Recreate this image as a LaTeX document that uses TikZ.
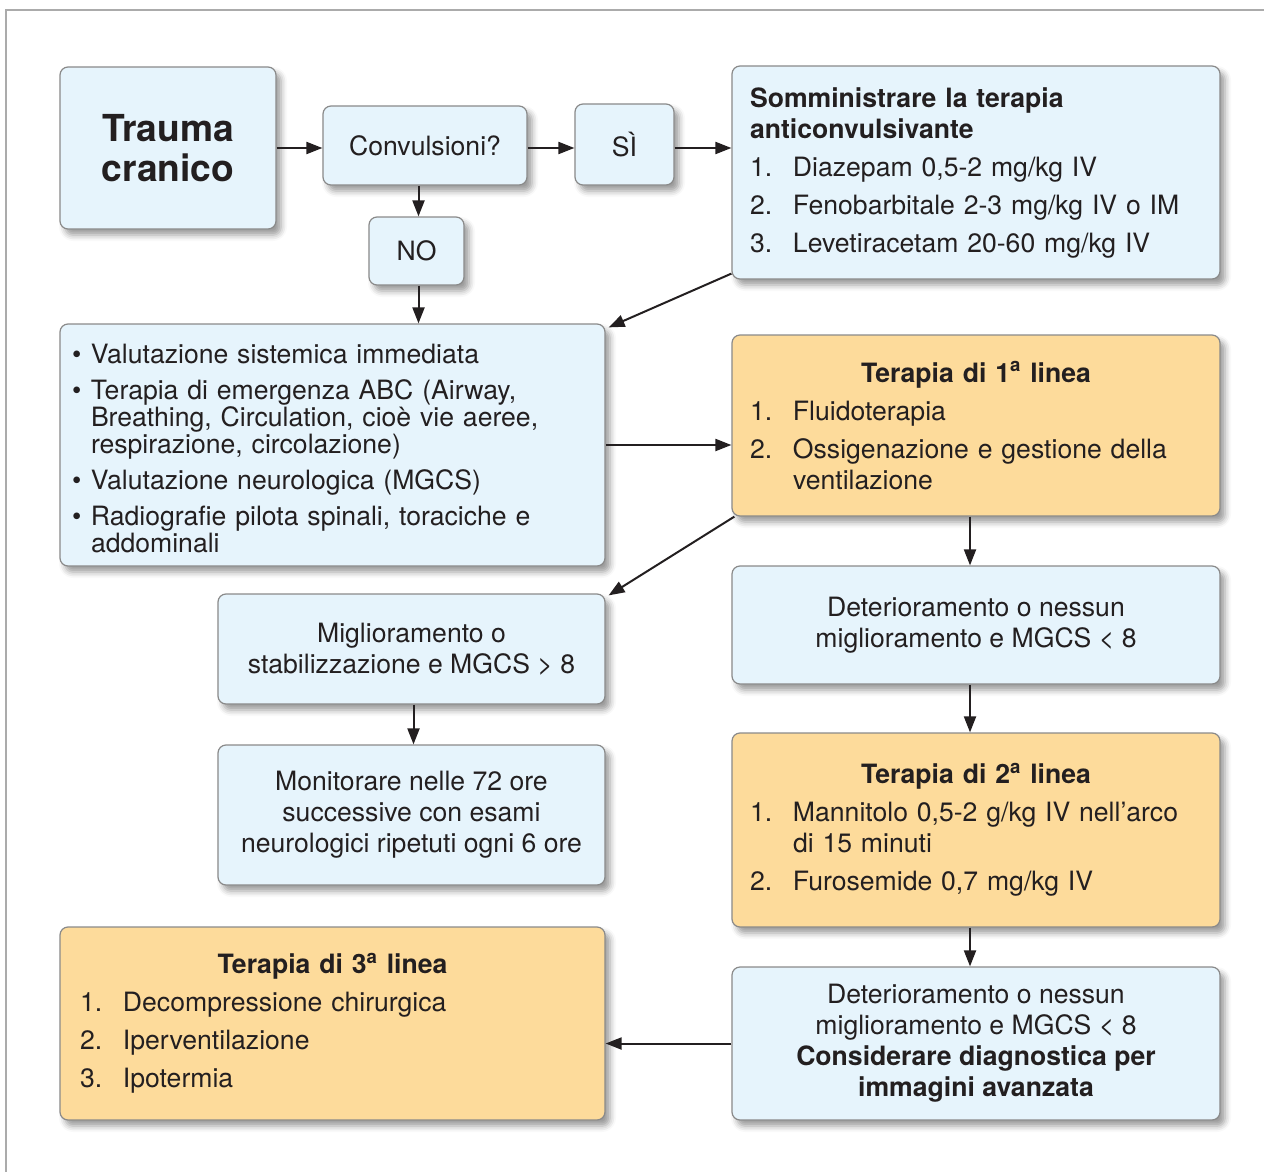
\documentclass[tikz,border=0pt]{standalone}
\usepackage{fontspec}
\setmainfont{TeX Gyre Heros}
\usetikzlibrary{arrows.meta, shadows.blur}
\definecolor{hellblau}{HTML}{E6F4FC}
\definecolor{arancio}{HTML}{FDDB9B}
\definecolor{bordo}{HTML}{8A8A8A}
\definecolor{cornice}{HTML}{ABABAB}
\definecolor{testo}{HTML}{231F20}
% voce numerata con rientro sospeso
\newcommand{\voce}[2]{\par\vspace{3.5pt}\hangindent=21.5pt\hangafter=1\noindent\makebox[21.5pt][l]{#1}#2}
% voce puntata
\newcommand{\punto}[2][4.5pt]{\par\vspace{#1}\hangindent=9.5pt\hangafter=1\noindent\makebox[9.5pt][l]{\textbullet}#2}
\tikzset{
  box/.style={draw=bordo, line width=0.6pt, rounded corners=4pt, fill=hellblau,
    blur shadow={shadow xshift=2.5pt, shadow yshift=-3pt, shadow blur radius=3pt, shadow opacity=40},
    inner sep=0pt, text=testo, font=\fontsize{13.3}{15.5}\selectfont},
  boxarancio/.style={box, fill=arancio},
  pfeil/.style={-{Triangle[length=8pt,width=6pt]}, line width=1pt, draw=testo},
}
\begin{document}
\begin{tikzpicture}[x=0.5pt, y=-0.5pt]
  \useasboundingbox (0,0) rectangle (1264,1172);
  % cornice
  \draw[cornice, line width=1pt] (6,1180) -- (6,10) -- (1270,10);

  % riga in alto
  \node[box, minimum width=108pt, minimum height=81pt, align=center,
  font=\bfseries\fontsize{18.6}{20}\selectfont] (trauma) at (168,148) {Trauma\\cranico};
  \node[box, minimum width=102pt, minimum height=39.5pt] (conv) at (425,145.5) {Convulsioni?};
  \node[box, minimum width=49.5pt, minimum height=40.5pt] (si) at (624.5,144.5) {SÌ};
  \node[box, minimum width=47.5pt, minimum height=34pt] (no) at (416.5,251) {NO};
  \node[box, minimum width=244pt, minimum height=106.5pt, text width=226pt, align=left] (soma) at (976,172.5) {%
    {\bfseries Somministrare la terapia\\anticonvulsivante}
    \voce{1.}{Diazepam 0,5-2 mg/kg IV}
    \voce{2.}{Fenobarbitale 2-3 mg/kg IV o IM}
    \voce{3.}{Levetiracetam 20-60 mg/kg IV}\par};

  % valutazione e terapia di 1a linea
  \node[box, minimum width=272.5pt, minimum height=121pt, text width=260.5pt, align=left,
  font=\fontsize{13.3}{13.5}\selectfont] (valut) at (332.5,445) {%
    \punto[0pt]{Valutazione sistemica immediata}
    \punto{Terapia di emergenza ABC (Airway,\newline Breathing, Circulation, cioè vie aeree,\newline respirazione, circolazione)}
    \punto{Valutazione neurologica (MGCS)}
    \punto{Radiografie pilota spinali, toraciche e\newline addominali}\par};
  \node[boxarancio, minimum width=244pt, minimum height=90.5pt, text width=226pt, align=left] (ter1) at (976,425.5) {%
    {\centering\bfseries Terapia di 1\textsuperscript{a} linea\par}
    \voce{1.}{Fluidoterapia}
    \voce{2.}{Ossigenazione e gestione della\newline ventilazione}\par};

  % colonna sinistra
  \node[box, minimum width=193.5pt, minimum height=55pt, align=center] (migl) at (411.5,649)
  {Miglioramento o\\stabilizzazione e MGCS > 8};
  \node[box, minimum width=193.5pt, minimum height=70pt, align=center] (mon) at (411.5,815)
  {Monitorare nelle 72 ore\\successive con esami\\neurologici ripetuti ogni 6 ore};
  \node[boxarancio, minimum width=272.5pt, minimum height=96.5pt, text width=252.5pt, align=left] (ter3) at (332.5,1023.5) {%
    {\centering\bfseries Terapia di 3\textsuperscript{a} linea\par}
    \voce{1.}{Decompressione chirurgica}
    \voce{2.}{Iperventilazione}
    \voce{3.}{Ipotermia}\par};

  % colonna destra
  \node[box, minimum width=244pt, minimum height=59pt, align=center] (det1) at (976,625)
  {Deterioramento o nessun\\miglioramento e MGCS < 8};
  \node[boxarancio, minimum width=244pt, minimum height=97pt, text width=226pt, align=left] (ter2) at (976,830) {%
    {\centering\bfseries Terapia di 2\textsuperscript{a} linea\par}
    \voce{1.}{Mannitolo 0,5-2 g/kg IV nell’arco\newline di 15 minuti}
    \voce{2.}{Furosemide 0,7 mg/kg IV}\par};
  \node[box, minimum width=244pt, minimum height=76.5pt, align=center] (det2) at (976,1043.5)
  {Deterioramento o nessun\\miglioramento e MGCS < 8\\\textbf{Considerare diagnostica per}\\\textbf{immagini avanzata}};

  % frecce
  \draw[pfeil] (trauma.east) -- (trauma.east -| conv.west);
  \draw[pfeil] (trauma.east -| conv.east) -- (trauma.east -| si.west);
  \draw[pfeil] (trauma.east -| si.east) -- (trauma.east -| soma.west);
  \draw[pfeil] ([xshift=1pt]no.north |- conv.south) -- ([xshift=1pt]no.north);
  \draw[pfeil] ([xshift=1pt]no.south) -- ([xshift=1pt]no.south |- valut.north);
  \draw[pfeil] ([yshift=3pt]soma.south west) -- ([xshift=1.5pt,yshift=-2pt]valut.north east);
  \draw[pfeil] (valut.east) -- (valut.east -| ter1.west);
  \draw[pfeil] ([xshift=1.5pt]ter1.south west) -- ([xshift=1.5pt,yshift=-1pt]migl.north east);
  \draw[pfeil] ([xshift=1pt]migl.south) -- ([xshift=1pt]migl.south |- mon.north);
  \draw[pfeil] ([xshift=-3pt]ter1.south) -- ([xshift=-3pt]det1.north);
  \draw[pfeil] ([xshift=-3pt]det1.south) -- ([xshift=-3pt]ter2.north);
  \draw[pfeil] ([xshift=-3pt]ter2.south) -- ([xshift=-3pt]det2.north);
  \draw[pfeil] (det2.west) -- (det2.west -| ter3.east);
\end{tikzpicture}
\end{document}
